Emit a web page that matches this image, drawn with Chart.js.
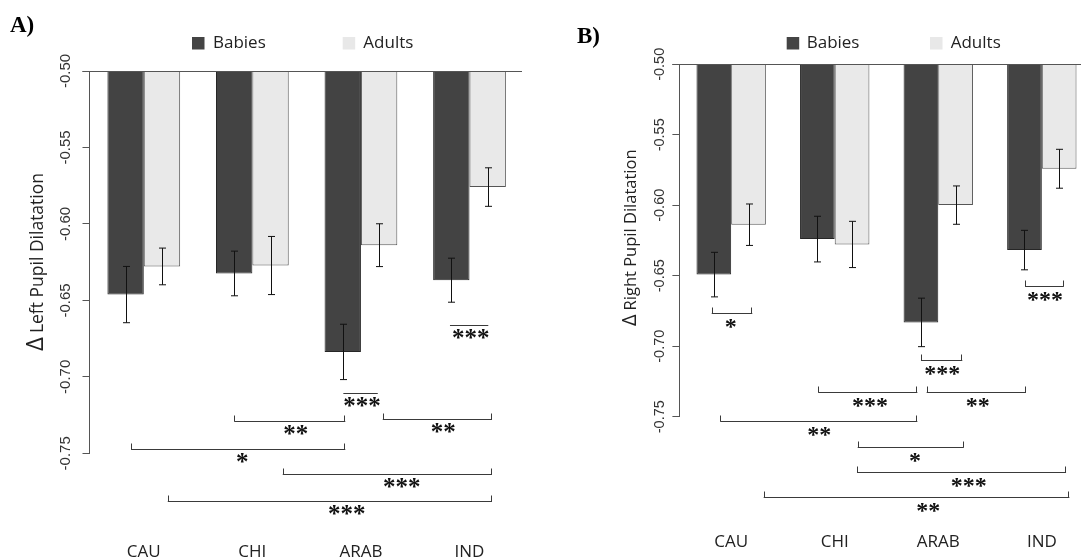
<!DOCTYPE html>
<html><head><meta charset="utf-8">
<script src="https://cdn.jsdelivr.net/npm/chart.js@4.4.1/dist/chart.umd.min.js"></script>
<style>
html,body{margin:0;padding:0;background:#fff;overflow:hidden;width:1081px;height:559px;position:relative;}
#wrapA{position:absolute;left:0;top:0;width:540px;height:559px;}
#wrapB{position:absolute;left:540px;top:0;width:570px;height:559px;}
canvas{display:block;}
</style></head><body>
<div id="wrapA"><canvas id="cA" width="540" height="559"></canvas></div>
<div id="wrapB"><canvas id="cB" width="570" height="559"></canvas></div>
<script>
// ---------- data ----------
const categories = ['CAU', 'CHI', 'ARAB', 'IND'];
const seriesNames = ['Babies', 'Adults'];
const yTickValues = [-0.50, -0.55, -0.60, -0.65, -0.70, -0.75];
const yTickLabels = ['-0.50', '-0.55', '-0.60', '-0.65', '-0.70', '-0.75'];

const leftBabies   = [-0.6462, -0.6324, -0.6837, -0.6368];
const leftAdults   = [-0.6278, -0.6272, -0.6139, -0.5759];
const leftBabiesSE = [0.0184, 0.0146, 0.0181, 0.0144];
const leftAdultsSE = [0.0120, 0.0190, 0.0140, 0.0126];

const rightBabies   = [-0.6492, -0.6240, -0.6831, -0.6318];
const rightAdults   = [-0.6138, -0.6278, -0.5999, -0.5741];
const rightBabiesSE = [0.0158, 0.0162, 0.0172, 0.0140];
const rightAdultsSE = [0.0147, 0.0164, 0.0136, 0.0138];

// significance marks: [from (category index), to, label position, level, label, end ticks]
const leftSig = [
  [2.820, 3.173, 3.012, -0.6662, '***', false],
  [1.838, 2.155, 2.010, -0.7103, '***', false],
  [0.834, 1.856, 1.400, -0.7289, '**',  true],
  [2.201, 3.207, 2.759, -0.7277, '**',  true],
  [-0.117, 1.856, 0.908, -0.7469, '*',  true],
  [1.280, 3.207, 2.376, -0.7637, '***', true],
  [0.221, 3.207, 1.869, -0.7814, '***', true]
];
const rightSig = [
  [-0.188, 0.204, -0.005, -0.6767, '*',  true],
  [2.838, 3.212, 3.031, -0.6573, '***', true],
  [1.833, 2.232, 2.039, -0.7101, '***', true],
  [0.841, 1.798, 1.341, -0.7328, '***', true],
  [1.888, 2.847, 2.381, -0.7328, '**',  true],
  [-0.105, 1.798, 0.851, -0.7534, '**', true],
  [1.222, 2.246, 1.775, -0.7714, '*',   true],
  [1.215, 3.234, 2.294, -0.7889, '***', true],
  [0.314, 3.266, 1.904, -0.8073, '**',  true]
];

// ---------- styles ----------
const BABY_FILL = '#434343', BABY_EDGE = '#262626';
const ADULT_FILL = '#e9e9e9', ADULT_EDGE = '#555555';
const AXIS_COL = '#555555';
const SANS = '"Open Sans", sans-serif';

function makeChart(canvasId, cfg) {
  const extra = {
    id: 'extra_' + canvasId,
    afterDatasetsDraw(chart) {
      const ctx = chart.ctx, ys = chart.scales.y;
      ctx.save();
      ctx.strokeStyle = '#111';
      ctx.lineWidth = 1;
      [cfg.se[0], cfg.se[1]].forEach((seArr, d) => {
        const meta = chart.getDatasetMeta(d);
        meta.data.forEach((bar, i) => {
          const v = chart.data.datasets[d].data[i];
          const x = Math.round(bar.x) + 0.5;
          const y1 = ys.getPixelForValue(v + seArr[i]);
          const y2 = ys.getPixelForValue(v - seArr[i]);
          ctx.beginPath();
          ctx.moveTo(x, y1); ctx.lineTo(x, y2);
          ctx.moveTo(x - 3.5, y1); ctx.lineTo(x + 3.5, y1);
          ctx.moveTo(x - 3.5, y2); ctx.lineTo(x + 3.5, y2);
          ctx.stroke();
        });
      });
      ctx.restore();
    },
    afterDraw(chart) {
      const ctx = chart.ctx, ys = chart.scales.y, xs = chart.scales.x, ca = chart.chartArea;
      ctx.save();
      // top line at -0.50
      const yTop = Math.round(ys.getPixelForValue(-0.5)) + 0.5;
      ctx.strokeStyle = AXIS_COL; ctx.lineWidth = 1;
      ctx.beginPath(); ctx.moveTo(ca.left - 7, yTop); ctx.lineTo(cfg.topLineRight, yTop); ctx.stroke();
      // y tick labels (rotated)
      ctx.fillStyle = '#333';
      ctx.font = cfg.tickFont + 'px "Liberation Sans", Arial, sans-serif';
      ctx.textAlign = 'center'; ctx.textBaseline = 'middle';
      yTickValues.forEach((v, i) => {
        const y = ys.getPixelForValue(v);
        ctx.save(); ctx.translate(cfg.tickLabelX, y); ctx.rotate(-Math.PI / 2);
        ctx.fillText(yTickLabels[i], 0, 0); ctx.restore();
      });
      // y axis title
      ctx.save();
      ctx.translate(cfg.titleX, cfg.titleY); ctx.rotate(-Math.PI / 2);
      ctx.textAlign = 'left'; ctx.textBaseline = 'alphabetic'; ctx.fillStyle = '#222';
      ctx.font = cfg.deltaFont + 'px ' + SANS;
      ctx.fillText('\u0394', 0, 0);
      const dw = ctx.measureText('\u0394').width;
      ctx.font = cfg.titleFont + 'px ' + SANS;
      ctx.fillText(cfg.title, dw + 4, 0);
      ctx.restore();
      // significance brackets
      ctx.strokeStyle = '#3a3a3a'; ctx.lineWidth = 1; ctx.fillStyle = '#111';
      ctx.font = 'bold ' + cfg.starFont + 'px "Liberation Serif", "Times New Roman", serif';
      ctx.textAlign = 'center'; ctx.textBaseline = 'alphabetic';
      cfg.sig.forEach(s => {
        const x1 = xs.getPixelForValue(s[0]), x2 = xs.getPixelForValue(s[1]);
        const y = Math.round(ys.getPixelForValue(s[3])) + 0.5;
        ctx.beginPath();
        ctx.moveTo(x1, y); ctx.lineTo(x2, y);
        if (s[5]) {
          ctx.moveTo(Math.round(x1) + 0.5, y); ctx.lineTo(Math.round(x1) + 0.5, y - 6);
          ctx.moveTo(Math.round(x2) - 0.5, y); ctx.lineTo(Math.round(x2) - 0.5, y - 6);
        }
        ctx.stroke();
        ctx.fillText(s[4], xs.getPixelForValue(s[2]), y + cfg.starDY);
      });
      // legend
      ctx.font = '17px ' + SANS; ctx.textAlign = 'left'; ctx.textBaseline = 'middle';
      cfg.legend.forEach((L, i) => {
        ctx.fillStyle = i === 0 ? '#444' : '#e8e8e8';
        ctx.fillRect(L[0], 37, 12.5, 12.5);
        ctx.fillStyle = '#222';
        ctx.fillText(seriesNames[i], L[1], 43.5);
      });
      // panel letter
      ctx.font = 'bold 23px "Liberation Serif", "Times New Roman", serif';
      ctx.fillStyle = '#000'; ctx.textBaseline = 'alphabetic';
      ctx.fillText(cfg.letter, cfg.letterX, cfg.letterY);
      ctx.restore();
    }
  };

  return new Chart(document.getElementById(canvasId), {
    type: 'bar',
    data: {
      labels: categories,
      datasets: [
        { label: seriesNames[0], data: cfg.values[0], base: -0.5,
          backgroundColor: BABY_FILL, borderColor: BABY_EDGE, borderWidth: 1 },
        { label: seriesNames[1], data: cfg.values[1], base: -0.5,
          backgroundColor: ADULT_FILL, borderColor: ADULT_EDGE, borderWidth: 1 }
      ]
    },
    options: {
      responsive: false,
      animation: false,
      devicePixelRatio: 1,
      categoryPercentage: 0.67,
      barPercentage: 1.0,
      layout: { padding: cfg.padding },
      plugins: { legend: { display: false }, tooltip: { enabled: false } },
      scales: {
        x: {
          grid: { display: true, drawOnChartArea: false, drawTicks: true, tickLength: cfg.xPad, color: 'rgba(0,0,0,0)' },
          border: { display: false },
          ticks: { color: '#222', font: { family: SANS, size: 17 }, padding: 0 },
          afterFit(scale) { scale.height = cfg.xHeight; }
        },
        y: {
          min: -0.75, max: -0.5,
          ticks: { display: false, stepSize: 0.05 },
          grid: { display: true, drawOnChartArea: false, drawTicks: true, tickLength: 7, color: AXIS_COL },
          border: { display: true, color: AXIS_COL, width: 1 }
        }
      }
    },
    plugins: [extra]
  });
}

makeChart('cA', {
  values: [leftBabies, leftAdults], se: [leftBabiesSE, leftAdultsSE], sig: leftSig,
  padding: { left: 82.5, right: 16.2, top: 71, bottom: 0 },
  xHeight: 105.7, xPad: 88.5,
  topLineRight: 522, tickLabelX: 66, tickFont: 15,
  titleX: 43, titleY: 351, deltaFont: 24, titleFont: 17.5, title: 'Left Pupil Dilatation',
  starFont: 25, starDY: 20,
  legend: [[192, 213], [342.7, 363.3]],
  letter: 'A)', letterX: 10, letterY: 32
});

makeChart('cB', {
  values: [rightBabies, rightAdults], se: [rightBabiesSE, rightAdultsSE], sig: rightSig,
  padding: { left: 132.4, right: 16.4, top: 64.3, bottom: 0 },
  xHeight: 142.3, xPad: 115.5,
  topLineRight: 541, tickLabelX: 120, tickFont: 14.5,
  titleX: 96, titleY: 326, deltaFont: 20, titleFont: 16.5, title: 'Right Pupil Dilatation',
  starFont: 24, starDY: 20,
  legend: [[246.7, 266.7], [390, 410.7]],
  letter: 'B)', letterX: 37, letterY: 43
});
</script>
</body></html>
